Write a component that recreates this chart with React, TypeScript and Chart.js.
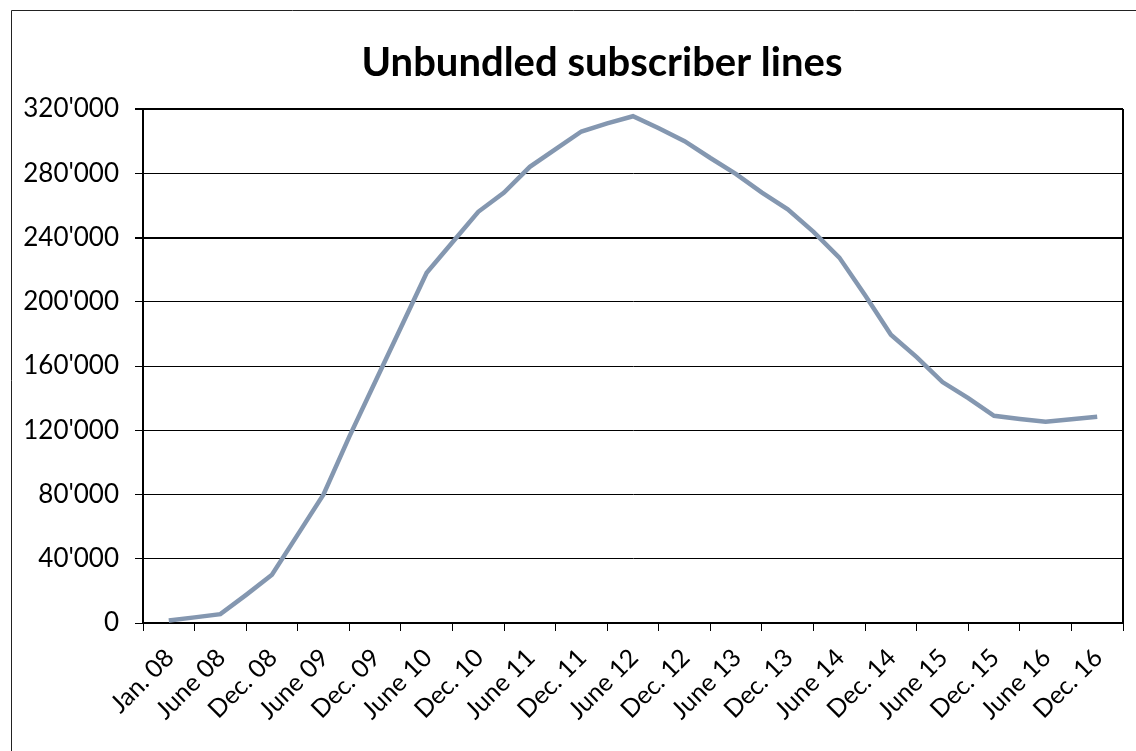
import { useEffect, useRef } from 'react';
import { Chart, registerables } from 'chart.js';

Chart.register(...registerables);

const TITLE = 'Unbundled subscriber lines';

// Quarterly reporting periods; every second one is labelled on the axis.
const periods = [
  'Jan. 08', 'Mar. 08', 'June 08', 'Sep. 08', 'Dec. 08',
  'Mar. 09', 'June 09', 'Sep. 09', 'Dec. 09',
  'Mar. 10', 'June 10', 'Sep. 10', 'Dec. 10',
  'Mar. 11', 'June 11', 'Sep. 11', 'Dec. 11',
  'Mar. 12', 'June 12', 'Sep. 12', 'Dec. 12',
  'Mar. 13', 'June 13', 'Sep. 13', 'Dec. 13',
  'Mar. 14', 'June 14', 'Sep. 14', 'Dec. 14',
  'Mar. 15', 'June 15', 'Sep. 15', 'Dec. 15',
  'Mar. 16', 'June 16', 'Sep. 16', 'Dec. 16',
];

// Unbundled subscriber lines at the end of each period.
const subscriberLines = [
  1500, 3500, 5500, 17500, 30000,
  55000, 80000, 116000, 150000,
  184000, 218000, 237000, 256000,
  268000, 284000, 295000, 306000,
  311000, 315500, 308000, 300000,
  289500, 279500, 268000, 257500,
  243500, 227500, 204000, 179500,
  165500, 150000, 140000, 129000,
  127000, 125300, 126800, 128400,
];

const Y_MIN = 0;
const Y_MAX = 320000;
const Y_STEP = 40000;

const FONT_FAMILY = 'Lato, "Open Sans", "DejaVu Sans", sans-serif';
const LINE_COLOR = '#8497b0';

const formatThousands = (v: number) =>
  String(Math.round(v)).replace(/\B(?=(\d{3})+(?!\d))/g, "'");

// Outer frame, chart title and right-hand border of the plot area.
const decorations = {
  id: 'decorations',
  beforeDraw(chart: any) {
    const { ctx, width, height } = chart;
    ctx.save();
    ctx.fillStyle = '#ffffff';
    ctx.fillRect(0, 0, width, height);
    ctx.strokeStyle = '#222';
    ctx.lineWidth = 1;
    ctx.beginPath();
    ctx.moveTo(11.5, height);
    ctx.lineTo(11.5, 10.5);
    ctx.lineTo(width, 10.5);
    ctx.stroke();
    ctx.restore();
  },
  afterDraw(chart: any) {
    const { ctx, chartArea } = chart;
    ctx.save();
    ctx.strokeStyle = '#000';
    ctx.lineWidth = 2;
    ctx.beginPath();
    ctx.moveTo(chartArea.right, chartArea.top);
    ctx.lineTo(chartArea.right, chartArea.bottom);
    ctx.stroke();
    ctx.fillStyle = '#000';
    ctx.font = `bold 40px ${FONT_FAMILY}`;
    ctx.textAlign = 'center';
    ctx.textBaseline = 'middle';
    ctx.fillText(TITLE, 602, 63);
    ctx.restore();
  },
};

export default function App() {
  const canvasRef = useRef<HTMLCanvasElement | null>(null);

  useEffect(() => {
    document.body.style.margin = '0';
    const canvas = canvasRef.current;
    if (!canvas) return;

    const chart = new Chart(canvas, {
      type: 'line',
      data: {
        datasets: [
          {
            label: TITLE,
            data: subscriberLines.map((v, i) => ({ x: i, y: v })),
            borderColor: LINE_COLOR,
            borderWidth: 4.5,
            pointRadius: 0,
            tension: 0,
            fill: false,
          },
        ],
      },
      options: {
        animation: false,
        responsive: false,
        maintainAspectRatio: false,
        layout: { padding: { top: 109, right: 13, bottom: 0, left: 0 } },
        plugins: {
          legend: { display: false },
          title: { display: false },
          tooltip: { enabled: false },
        },
        scales: {
          x: {
            type: 'linear',
            min: -1,
            max: periods.length,
            afterBuildTicks: (scale: any) => {
              const ticks = [];
              for (let v = -1; v <= periods.length; v++) ticks.push({ value: v });
              scale.ticks = ticks;
            },
            afterFit: (scale: any) => {
              scale.height = 128;
              scale.paddingLeft = 0;
              scale.paddingRight = 0;
            },
            ticks: {
              autoSkip: false,
              minRotation: 45,
              maxRotation: 45,
              padding: 12,
              labelOffset: 1,
              color: '#000',
              font: { family: FONT_FAMILY, size: 25 },
              callback: (value: any) => {
                const i = Number(value);
                return i >= 0 && i < periods.length && i % 2 === 0 ? periods[i] : '';
              },
            },
            grid: {
              drawOnChartArea: false,
              tickLength: 8,
              lineWidth: 1,
              color: '#000',
              tickColor: (ctx: any) =>
                ctx.tick && Math.abs(ctx.tick.value % 2) === 1 ? '#000' : 'rgba(0,0,0,0)',
            },
            border: { color: '#000', width: 2 },
          },
          y: {
            min: Y_MIN,
            max: Y_MAX,
            afterFit: (scale: any) => {
              scale.width = 143;
            },
            ticks: {
              stepSize: Y_STEP,
              padding: 16,
              color: '#000',
              font: { family: FONT_FAMILY, size: 26 },
              callback: (value: any) => formatThousands(Number(value)),
            },
            grid: {
              color: '#000',
              tickLength: 8,
              lineWidth: (ctx: any) =>
                ctx.tick && (ctx.tick.value === 240000 || ctx.tick.value === Y_MAX) ? 2 : 1,
            },
            border: { color: '#000', width: 2 },
          },
        },
      },
      plugins: [decorations],
    });

    return () => chart.destroy();
  }, []);

  return (
    <div style={{ width: 1136, height: 751 }}>
      <canvas ref={canvasRef} width={1136} height={751} style={{ display: 'block' }} />
    </div>
  );
}
